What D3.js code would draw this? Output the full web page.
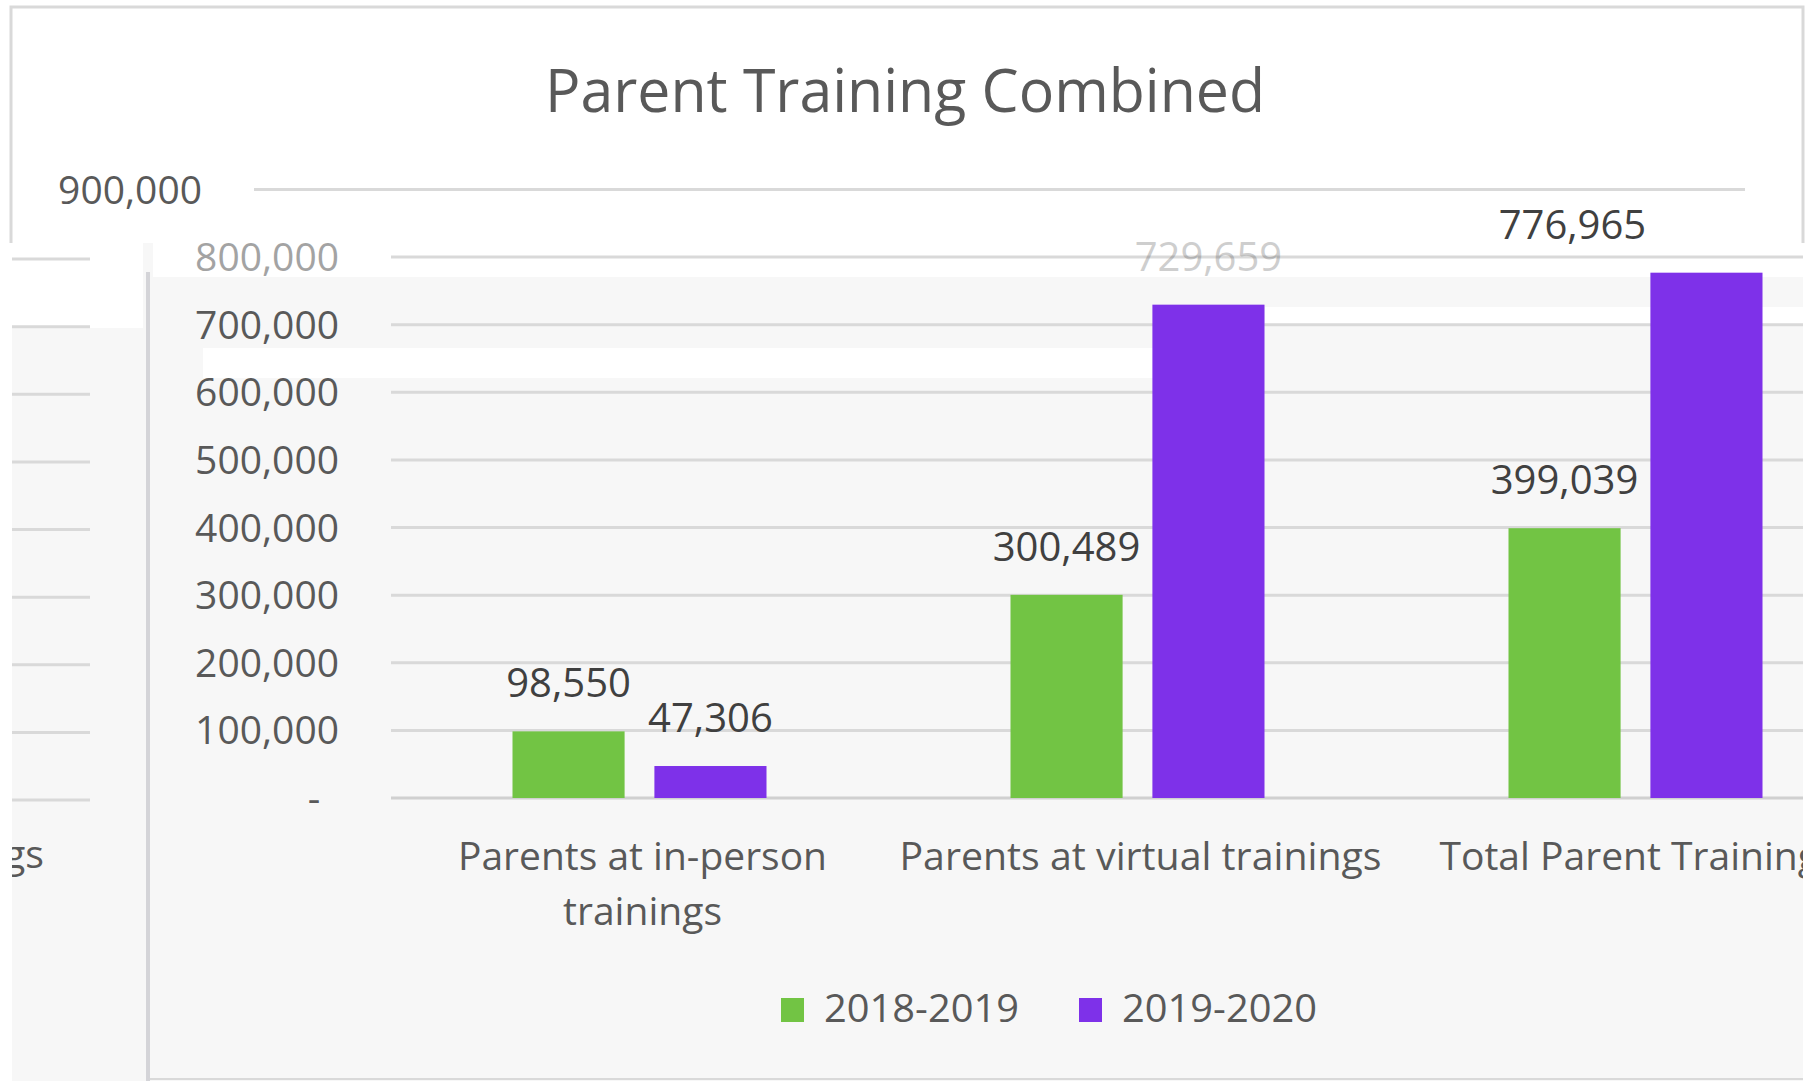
<!DOCTYPE html>
<html><head><meta charset="utf-8">
<script src="https://cdn.jsdelivr.net/npm/d3@7"></script>
<style>
html,body{margin:0;padding:0;background:#fff;overflow:hidden}
svg{display:block}
text{font-family:"Open Sans",sans-serif}
</style>
</head><body>
<svg id="c" width="1812" height="1081"></svg>
<script>
// ---------- data ----------
const chartTitle = "Parent Training Combined";
const categories = ["Parents at in-person trainings", "Parents at virtual trainings", "Total Parent Trainings"];
const categoryLines = [["Parents at in-person", "trainings"], ["Parents at virtual trainings"], ["Total Parent Trainings"]];
const seriesNames = ["2018-2019", "2019-2020"];
const values2018_2019 = [98550, 300489, 399039];
const values2019_2020 = [47306, 729659, 776965];
const yTickValues = [0, 100000, 200000, 300000, 400000, 500000, 600000, 700000, 800000, 900000];
const seriesColors = ["#72c444", "#7e31e9"];

// ---------- setup ----------
const svg = d3.select("#c");
const W = 1812, H = 1081;
const fmt = d3.format(",");
const tickFmt = v => v === 0 ? "-" : fmt(v);
const txt = "#595959";
const grid = "#d9d9d9";

const y = d3.scaleLinear().domain([0, 900000]).range([798, 189.5]);
const x = d3.scaleBand().domain(categories).range([390.5, 1884.5]).padding(0);
const xs = d3.scaleBand().domain(seriesNames)
  .range([x.bandwidth() / 2 - 127, x.bandwidth() / 2 + 127]).paddingInner(0.21);

const rows = categories.map((c, i) => ({cat: c, vals: [values2018_2019[i], values2019_2020[i]]}));

function fitWidth(sel, w) {
  sel.attr("textLength", w).attr("lengthAdjust", "spacingAndGlyphs");
}

const defs = svg.append("defs");
defs.append("clipPath").attr("id", "panelClip").append("rect")
  .attr("x", 12).attr("y", 0).attr("width", 1791).attr("height", H);
defs.append("clipPath").attr("id", "leftClip").append("rect")
  .attr("x", 12).attr("y", 243).attr("width", 131).attr("height", 838);

// ---------- background panels ----------
svg.append("rect").attr("width", W).attr("height", H).attr("fill", "#fff");

// lower (grey) panel
svg.append("rect").attr("x", 12).attr("y", 243).attr("width", 1791).attr("height", 838).attr("fill", "#f7f7f7");
// white rendering bands
const bands = [[12, 243, 131, 85], [153, 243, 1650, 34], [203, 348, 951, 30], [1265, 307, 538, 18]];
svg.selectAll("rect.band").data(bands).join("rect").attr("class", "band")
  .attr("x", d => d[0]).attr("y", d => d[1]).attr("width", d => d[2]).attr("height", d => d[3])
  .attr("fill", "#ffffff");
// bottom edge
svg.append("line").attr("x1", 150).attr("x2", 1803).attr("y1", 1079).attr("y2", 1079)
  .attr("stroke", grid).attr("stroke-width", 2);

// top (white) panel with border
svg.append("rect").attr("x", 7).attr("y", 7).attr("width", 1797).attr("height", 236)
  .attr("fill", "#fff");
svg.append("path").attr("d", "M11,243 V7 H1803 V243")
  .attr("fill", "none").attr("stroke", "#d9d9d9").attr("stroke-width", 3);

// left strip gridline stubs
svg.append("g").selectAll("line").data(yTickValues.filter(v => v < 900000)).join("line")
  .attr("x1", 12).attr("x2", 90)
  .attr("y1", d => y(d) + 2).attr("y2", d => y(d) + 2)
  .attr("stroke", grid).attr("stroke-width", 3);
// left strip partial category label
svg.append("text").attr("clip-path", "url(#leftClip)")
  .attr("x", 44).attr("y", 868).attr("text-anchor", "end")
  .attr("font-size", 39).attr("fill", txt)
  .text("Parents at virtual trainings").call(fitWidth, 482);

// vertical separator
svg.append("line").attr("x1", 148).attr("x2", 148).attr("y1", 272).attr("y2", 1081)
  .attr("stroke", "#d4d4d8").attr("stroke-width", 4);

// ---------- title ----------
svg.append("text").attr("x", 905).attr("y", 112).attr("text-anchor", "middle")
  .attr("font-size", 61).attr("fill", txt).text(chartTitle).call(fitWidth, 720);

// ---------- top panel gridline & label ----------
svg.append("line").attr("x1", 254).attr("x2", 1745)
  .attr("y1", y(900000)).attr("y2", y(900000)).attr("stroke", grid).attr("stroke-width", 3);
svg.append("text").attr("x", 202).attr("y", y(900000)).attr("dy", "0.36em")
  .attr("text-anchor", "end").attr("font-size", 39).attr("fill", txt).text(tickFmt(900000));

// ---------- main plot ----------
const plot = svg.append("g").attr("clip-path", "url(#panelClip)");

plot.append("g").selectAll("line").data(yTickValues.filter(v => v < 900000)).join("line")
  .attr("x1", 391).attr("x2", 1803)
  .attr("y1", d => y(d)).attr("y2", d => y(d))
  .attr("stroke", d => d === 0 ? "#d0d0d0" : grid).attr("stroke-width", 3);

// y tick labels
const yl = svg.append("g");
yl.selectAll("text").data(yTickValues.filter(v => v > 0 && v < 900000)).join("text")
  .attr("x", 339).attr("y", d => y(d)).attr("dy", "0.36em").attr("text-anchor", "end")
  .attr("font-size", 39).attr("fill", txt)
  .attr("opacity", d => d === 800000 ? 0.55 : 1)
  .text(tickFmt);
yl.append("text").attr("x", 314).attr("y", y(0)).attr("dy", "0.36em").attr("text-anchor", "middle")
  .attr("font-size", 39).attr("fill", txt).text(tickFmt(0));

// bars
const groups = plot.selectAll("g.grp").data(rows).join("g").attr("class", "grp")
  .attr("transform", d => `translate(${x(d.cat)},0)`);
groups.selectAll("rect").data(d => d.vals.map((v, i) => ({s: seriesNames[i], v, i}))).join("rect")
  .attr("x", d => xs(d.s)).attr("width", xs.bandwidth())
  .attr("y", d => y(d.v)).attr("height", d => y(0) - y(d.v))
  .attr("fill", d => seriesColors[d.i]);

// data labels (the largest one is displaced into the top panel, as in the reference)
groups.selectAll("text.lbl").data(d => d.vals.map((v, i) => ({s: seriesNames[i], v, i}))).join("text")
  .attr("class", "lbl")
  .attr("x", d => xs(d.s) + xs.bandwidth() / 2 + (d.v === 776965 ? -134 : 0))
  .attr("y", d => y(d.v) - 34)
  .attr("text-anchor", "middle").attr("font-size", 40).attr("fill", "#404040")
  .attr("opacity", d => d.v === 729659 ? 0.25 : 1)
  .text(d => fmt(d.v));

// category labels
const lineWidths = {"Parents at in-person": 369, "trainings": 159, "Parents at virtual trainings": 482, "Total Parent Trainings": 398};
rows.forEach((r, i) => {
  const cx = x(r.cat) + x.bandwidth() / 2 + 3;
  categoryLines[i].forEach((ln, j) => {
    plot.append("text").attr("x", cx).attr("y", 870 + j * 55).attr("text-anchor", "middle")
      .attr("font-size", 39).attr("fill", txt).text(ln).call(fitWidth, lineWidths[ln]);
  });
});

// legend
const legendX = [781, 1079];
const lg = svg.append("g");
seriesNames.forEach((s, i) => {
  lg.append("rect").attr("x", legendX[i]).attr("y", 998).attr("width", 23).attr("height", 24)
    .attr("fill", seriesColors[i]);
  lg.append("text").attr("x", legendX[i] + 43).attr("y", 1022).attr("font-size", 39)
    .attr("fill", txt).text(s).call(fitWidth, 195);
});
</script>
</body></html>
